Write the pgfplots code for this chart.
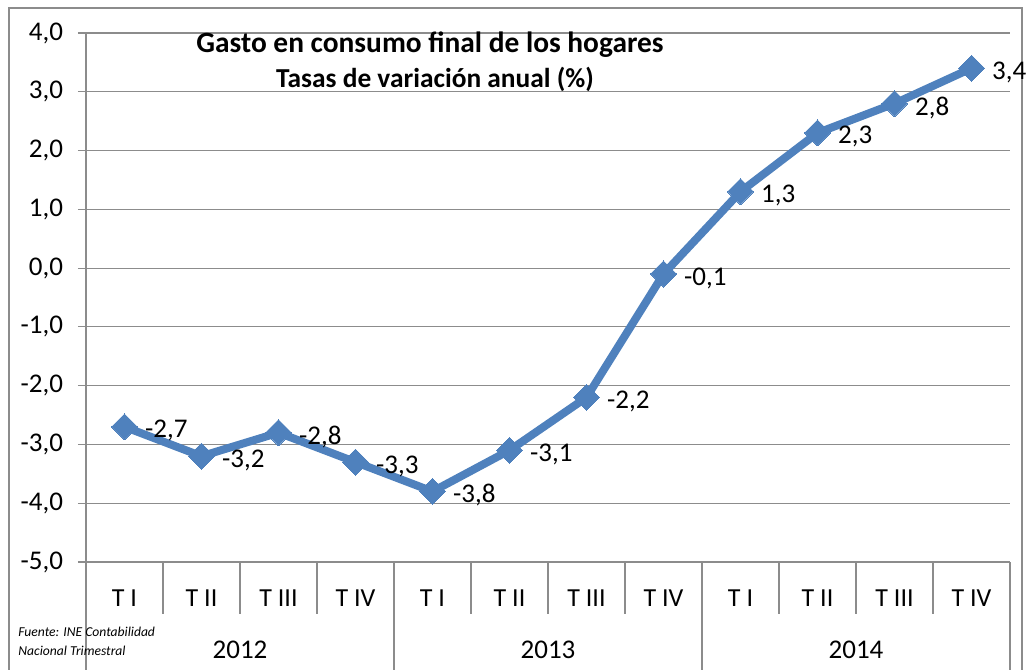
\documentclass[border=0pt]{standalone}
\usepackage{pgfplots}
\pgfplotsset{compat=1.18}
\usepackage{fontspec}
\setmainfont{Carlito}
\definecolor{exblue}{HTML}{4F81BD}
\definecolor{gridc}{HTML}{8C8C8C}
\begin{document}
\begin{tikzpicture}
\path[use as bounding box] (0,0) rectangle (513pt,334.5pt);
\draw[gridc, line width=0.6pt] (4.5pt,-2pt) -- (4.5pt,330.5pt) -- (511pt,330.5pt) -- (511pt,-2pt);
\begin{axis}[
  name=ax,
  at={(43pt,53.5pt)}, anchor=south west,
  scale only axis, width=462pt, height=264.5pt,
  xmin=0.5, xmax=12.5, ymin=-5, ymax=4,
  ytick={-5,-4,...,4},
  xtick={1,...,12},
  xticklabels={T I,T II,T III,T IV,T I,T II,T III,T IV,T I,T II,T III,T IV},
  x tick style={draw=none},
  xticklabel style={anchor=center, yshift=-14pt, font=\fontsize{13}{15}\selectfont},
  yticklabel style={font=\fontsize{13.5}{15}\selectfont, xshift=-4pt},
  y tick style={gridc, line width=0.6pt},
  tick align=outside, major tick length=4pt,
  ymajorgrids, grid style={gridc, line width=0.6pt},
  axis line style={gridc, line width=0.6pt},
  axis x line*=bottom, axis y line*=left,
  /pgf/number format/.cd, fixed, fixed zerofill, precision=1, use comma, assume math mode=true,
  clip=false,
]
\addplot[exblue, line width=4pt, mark=square*, mark size=4.6pt, mark options={solid, line width=0pt, rotate=45},
  nodes near coords={\pgfmathprintnumber[fixed,fixed zerofill,precision=1,use comma,assume math mode=true]{\pgfplotspointmeta}},
  every node near coord/.append style={black, anchor=west, xshift=7pt, yshift=-2pt, rotate=0, font=\fontsize{13.5}{15}\selectfont}]
coordinates {(1,-2.7)(2,-3.2)(3,-2.8)(4,-3.3)(5,-3.8)(6,-3.1)(7,-2.2)(8,-0.1)(9,1.3)(10,2.3)(11,2.8)(12,3.4)};
\foreach \xx in {1.5,2.5,3.5,5.5,6.5,7.5,9.5,10.5,11.5} {
  \edef\tmp{\noexpand\draw[gridc, line width=0.6pt] (axis cs:\xx,-5) -- ++(0pt,-26pt);}\tmp
}
\foreach \xx in {0.5,4.5,8.5,12.5} {
  \edef\tmp{\noexpand\draw[gridc, line width=0.6pt] (axis cs:\xx,-5) -- ++(0pt,-56pt);}\tmp
}
\node[font=\fontsize{13.5}{15}\selectfont] at ([yshift=-44pt]axis cs:2.5,-5) {2012};
\node[font=\fontsize{13.5}{15}\selectfont] at ([yshift=-44pt]axis cs:6.5,-5) {2013};
\node[font=\fontsize{13.5}{15}\selectfont] at ([yshift=-44pt]axis cs:10.5,-5) {2014};
\end{axis}
\node[font=\bfseries\fontsize{14.7}{16}\selectfont] at (215pt,312pt) {Gasto en consumo final de los hogares};
\node[font=\bfseries\fontsize{13.7}{16}\selectfont] at (217.5pt,295pt) {Tasas de variación anual (\%)};
\node[anchor=west, font=\itshape\fontsize{6.8}{8}\selectfont, inner sep=0pt] at (9pt,18.5pt) {Fuente: INE Contabilidad};
\node[anchor=west, font=\itshape\fontsize{6.8}{8}\selectfont, inner sep=0pt] at (9pt,9pt) {Nacional Trimestral};
\end{tikzpicture}
\end{document}
